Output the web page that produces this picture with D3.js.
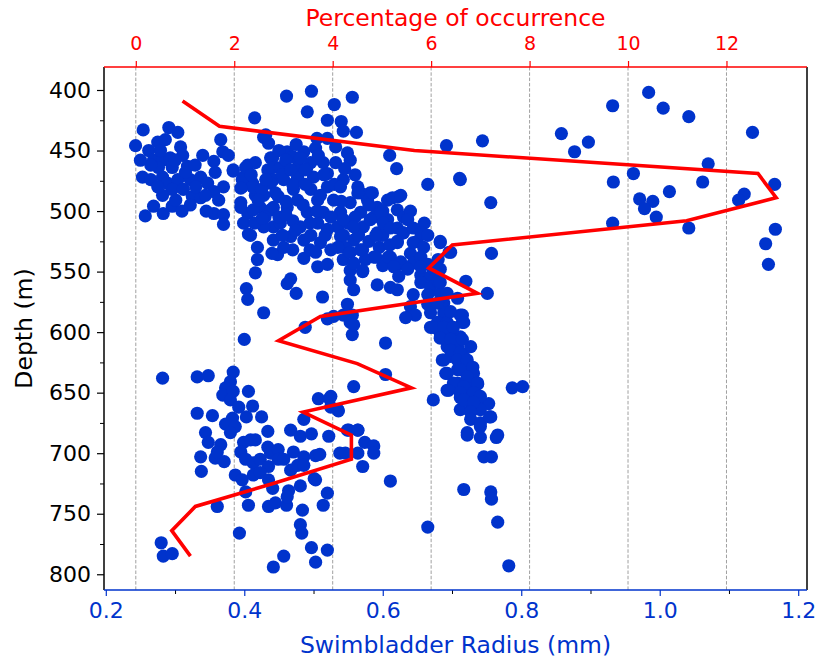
<!DOCTYPE html>
<html>
<head>
<meta charset="utf-8">
<style>
body { margin: 0; background: #fff; }
svg text { font-family: "DejaVu Sans", sans-serif; }
.axis .domain { display: none; }
</style>
</head>
<body>
<svg width="817" height="661"></svg>
<script src="https://cdn.jsdelivr.net/npm/d3@7"></script>
<script>
// swimbladder radius (mm) vs depth (m), one pair per fish
var fish = [
  [0.254,433],[0.243,446],[0.262,450],[0.291,431],[0.304,435],[0.275,443],[0.286,441],[0.308,447],[0.311,454],[0.269,458],
  [0.282,458],[0.293,456],[0.296,464],[0.276,464],[0.253,472],[0.265,474],[0.282,472],[0.289,477],[0.304,474],[0.296,482],
  [0.282,487],[0.269,496],[0.257,504],[0.283,502],[0.296,496],[0.312,482],[0.318,463],[0.322,474],[0.325,488],[0.337,472],
  [0.340,454],[0.356,459],[0.358,468],[0.347,477],[0.337,489],[0.356,484],[0.370,480],[0.363,491],[0.356,502],[0.370,503],
  [0.370,511],[0.366,441],[0.369,451],[0.377,454],[0.384,467],[0.415,423],[0.428,439],[0.435,444],[0.405,462],[0.416,460],
  [0.399,472],[0.397,480],[0.412,477],[0.416,487],[0.395,493],[0.405,502],[0.423,497],[0.399,510],[0.406,519],[0.438,456],
  [0.434,466],[0.442,474],[0.442,497],[0.442,513],
  [0.265,462],[0.279,450],[0.315,468],[0.329,462],[0.344,487],[0.322,495],[0.301,491],[0.250,458],[0.310,500],[0.345,500],
  [0.330,480],[0.275,480],[0.300,458],
  [0.461,405],[0.497,401],[0.491,418],[0.530,412],[0.556,406],[0.520,425],[0.540,426],[0.543,434],[0.562,435],[0.610,454],
  [0.620,465],[0.549,452],[0.553,458],[0.532,447],[0.532,460],[0.503,448],[0.486,451],[0.462,451],[0.441,456],[0.441,464],
  [0.402,464],[0.384,466],[0.397,474],[0.412,480],[0.395,481],[0.452,464],[0.477,464],[0.496,460],[0.514,460],[0.457,474],
  [0.477,472],[0.500,472],[0.520,469],[0.438,477],[0.471,482],[0.496,482],[0.520,480],[0.543,474],[0.564,480],[0.582,485],
  [0.568,485],[0.428,487],[0.449,488],[0.477,491],[0.506,491],[0.529,491],[0.553,493],[0.578,491],[0.607,491],[0.623,488],
  [0.621,499],[0.592,497],[0.395,497],[0.413,499],[0.438,499],[0.462,497],[0.491,501],[0.514,501],[0.539,501],[0.568,501],
  [0.587,505],[0.607,507],[0.630,505],[0.428,513],[0.452,510],[0.481,513],[0.506,510],[0.535,513],[0.549,510],[0.572,513],
  [0.592,518],[0.621,514],[0.409,520],[0.419,530],[0.442,524],[0.467,521],[0.486,524],[0.510,526],[0.539,521],[0.558,524],
  [0.571,532],[0.587,538],[0.611,538],[0.621,526],[0.630,518],[0.419,540],[0.448,536],[0.486,539],[0.506,546],[0.520,544],
  [0.543,540],[0.553,549],[0.571,550],[0.623,544],[0.416,551],[0.467,556],
  [0.450,450],[0.470,455],[0.455,470],[0.470,478],[0.445,485],[0.460,492],[0.485,495],[0.505,500],[0.525,505],[0.450,505],
  [0.470,508],[0.495,510],[0.520,515],[0.540,492],[0.530,478],[0.515,470],[0.545,465],[0.560,470],[0.490,465],[0.505,440],
  [0.475,445],[0.520,440],[0.430,505],[0.415,510],[0.455,520],[0.440,535],[0.470,532],[0.495,532],[0.545,530],[0.565,520],
  [0.580,525],[0.600,520],[0.595,530],[0.610,528],[0.575,540],[0.600,545],[0.640,535],[0.650,525],[0.660,510],[0.640,500],
  [0.600,500],[0.580,495],[0.560,505],[0.410,470],[0.425,482],
  [0.665,478],[0.712,474],[0.756,493],[0.539,480],[0.564,485],[0.585,485],[0.614,489],[0.626,487],[0.597,502],[0.582,507],
  [0.543,507],[0.558,513],[0.601,510],[0.636,507],[0.629,518],[0.644,514],[0.655,518],[0.665,520],[0.543,520],[0.590,520],
  [0.611,514],[0.621,525],[0.644,526],[0.659,530],[0.683,525],[0.698,534],[0.535,530],[0.553,534],[0.568,532],[0.558,543],
  [0.590,538],[0.608,538],[0.626,542],[0.644,543],[0.655,538],[0.665,544],[0.680,540],[0.757,535],[0.571,549],[0.616,546],
  [0.636,548],[0.655,553],[0.669,554],[0.683,548],[0.553,557],[0.623,554],[0.592,561],[0.611,563],[0.621,565],[0.558,565],
  [0.655,559],[0.669,563],[0.680,558],[0.720,558],[0.751,568],[0.644,569],[0.665,569],[0.683,568],[0.708,572],[0.640,579],
  [0.665,577],[0.688,576],[0.549,577],[0.543,586],[0.556,586],[0.647,586],[0.633,588],[0.669,584],[0.688,584],[0.712,586],
  [0.529,587],[0.553,592],[0.669,596],[0.679,592],[0.693,592],[0.715,592],[0.556,602],[0.683,601],[0.698,601],[0.712,604],
  [0.604,609],[0.693,612],[0.708,612],[0.727,612],[0.698,620],[0.717,620],[0.686,623],[0.691,634],[0.708,631],[0.727,629],
  [0.731,634],[0.604,635],[0.558,645],[0.708,642],[0.722,642],[0.737,643],[0.693,648],[0.787,646],[0.802,645],[0.673,656],
  [0.712,654],[0.727,653],[0.741,656],[0.753,659],[0.712,664],[0.727,664],[0.741,664],[0.756,670],[0.722,683],[0.741,678],
  [0.766,685],[0.535,664],[0.549,681],[0.564,681],[0.525,653],
  [0.673,548],[0.655,546],[0.683,559],[0.693,568],[0.679,576],[0.698,583],[0.715,586],[0.717,592],[0.673,596],[0.688,596],
  [0.702,596],[0.683,605],[0.698,606],[0.715,606],[0.698,615],[0.712,617],[0.688,623],[0.708,623],[0.722,623],[0.730,629],
  [0.693,634],[0.712,631],[0.722,637],[0.737,642],[0.702,642],[0.717,645],[0.695,648],[0.712,650],[0.731,650],[0.741,653],
  [0.717,656],[0.731,658],[0.727,666],[0.727,672],[0.741,675],[0.754,670],[0.722,685],[0.741,687],[0.764,687],[0.746,703],
  [0.757,703],[0.717,730],[0.756,732],[0.757,738],[0.766,757],[0.782,793],[0.665,761],
  [0.282,638],[0.332,637],[0.348,636],[0.400,606],[0.488,596],[0.558,594],[0.384,633],[0.380,641],[0.373,646],[0.369,652],
  [0.384,649],[0.406,649],[0.380,656],[0.392,662],[0.412,661],[0.332,667],[0.354,669],[0.383,671],[0.403,670],[0.425,670],
  [0.373,676],[0.387,678],[0.380,683],[0.344,683],[0.348,691],[0.366,693],[0.337,703],[0.358,704],[0.371,707],[0.338,715],
  [0.361,699],[0.399,691],[0.409,689],[0.416,689],[0.434,682],[0.434,695],[0.395,699],[0.402,705],[0.413,708],[0.423,705],
  [0.438,700],[0.449,697],[0.435,711],[0.449,705],[0.387,718],[0.397,722],[0.413,718],[0.423,716],[0.435,722],[0.467,681],
  [0.486,672],[0.481,686],[0.497,684],[0.471,699],[0.486,703],[0.503,702],[0.509,701],[0.467,714],[0.457,705],[0.477,710],
  [0.486,710],[0.507,655],[0.523,655],[0.525,662],[0.536,665],[0.522,686],[0.551,681],[0.564,681],[0.574,691],[0.587,694],
  [0.587,700],[0.564,700],[0.538,700],[0.546,700],[0.571,711],[0.611,723],[0.501,721],[0.481,727],[0.464,731],[0.441,729],
  [0.402,732],[0.361,744],[0.406,743],[0.435,744],[0.445,741],[0.461,743],[0.462,736],[0.484,747],[0.514,743],[0.520,733],
  [0.481,759],[0.483,766],[0.393,766],[0.497,778],[0.520,780],[0.503,790],[0.457,785],[0.442,794],[0.280,774],[0.283,785],
  [0.296,783],[0.503,722],
  [0.403,564],[0.405,573],[0.428,584],[0.462,560],[0.475,568],[0.513,571],[0.520,589],
  [0.932,413],[0.984,402],[1.005,415],[1.042,422],[1.134,435],[0.858,436],[0.897,443],[0.877,451],[0.744,442],[0.692,446],
  [0.711,473],[1.070,461],[1.062,476],[0.933,476],[0.962,469],[0.971,490],[0.990,492],[0.978,498],[0.995,505],[1.014,484],
  [1.166,478],[1.122,486],[1.114,491],[0.932,510],[1.042,514],[1.167,515],[1.153,527],[1.157,544],[0.696,534],[0.683,526],
  [0.431,437],[0.460,458],[0.481,456],[0.507,454],[0.460,503],[0.474,516],[0.496,520],[0.517,520],[0.525,532],[0.503,534],
  [0.457,530],[0.488,478],[0.510,487],[0.467,466],[0.488,466],[0.431,474],[0.420,491],[0.426,506]
];

// percentage of occurrence per depth bin (red profile)
var binDepth = [409, 430, 450, 469, 489, 508, 528, 547, 568, 587, 607, 626, 646, 666, 685, 705, 725, 744, 764, 785];
var binPct   = [0.95, 1.70, 5.66, 12.64, 13.01, 11.19, 6.43, 5.95, 6.94, 3.75, 2.90, 4.50, 5.60, 3.40, 4.38, 4.38, 2.79, 1.21, 0.73, 1.11];

var radiusTicks = [0.2, 0.4, 0.6, 0.8, 1.0, 1.2];
var radiusMinor = [0.3, 0.5, 0.7, 0.9, 1.1];
var depthTicks = [400, 450, 500, 550, 600, 650, 700, 750, 800];
var depthMinor = [425, 475, 525, 575, 625, 675, 725, 775];
var pctTicks = [0, 2, 4, 6, 8, 10, 12];

var blue = "#0033cc", red = "#ff0000";

var svg = d3.select("svg"),
    margin = {top: 67, right: 10, bottom: 71, left: 104},
    width = +svg.attr("width") - margin.left - margin.right,
    height = +svg.attr("height") - margin.top - margin.bottom,
    g = svg.append("g").attr("transform", "translate(" + margin.left + "," + margin.top + ")");

var x = d3.scaleLinear().domain([0.1974, 1.2127]).range([0, width]);
var xp = d3.scaleLinear().domain([-0.646, 13.636]).range([0, width]);
var y = d3.scaleLinear().domain([381, 813]).range([0, height]);

// dashed grid from the top (percentage) axis
g.append("g")
  .selectAll("line")
  .data(pctTicks)
  .enter().append("line")
    .attr("x1", function(d) { return xp(d); })
    .attr("x2", function(d) { return xp(d); })
    .attr("y1", 0)
    .attr("y2", height)
    .attr("stroke", "#a0a0a0")
    .attr("stroke-width", 1)
    .attr("stroke-dasharray", "3.5,1.8");

g.append("g")
  .selectAll("circle")
  .data(fish)
  .enter().append("circle")
    .attr("cx", function(d) { return x(d[0]); })
    .attr("cy", function(d) { return y(d[1]); })
    .attr("r", 6.6)
    .attr("fill", blue);

var line = d3.line()
    .x(function(d, i) { return xp(binPct[i]); })
    .y(function(d) { return y(d); });

g.append("path")
    .datum(binDepth)
    .attr("d", line)
    .attr("fill", "none")
    .attr("stroke", red)
    .attr("stroke-width", 3.6)
    .attr("stroke-linejoin", "miter");

// left axis
var leftAxis = g.append("g").attr("class", "axis")
    .call(d3.axisLeft(y).tickValues(depthTicks).tickSize(7).tickPadding(6));
leftAxis.selectAll("text").attr("font-size", 22).attr("fill", "#000").style("font-family", "DejaVu Sans");
leftAxis.selectAll("line").attr("stroke", "#000").attr("stroke-width", 1.2);
var leftMinor = g.append("g").attr("class", "axis")
    .call(d3.axisLeft(y).tickValues(depthMinor).tickSize(4).tickFormat(""));
leftMinor.selectAll("line").attr("stroke", "#000").attr("stroke-width", 1);

// bottom axis
var bottomAxis = g.append("g").attr("class", "axis")
    .attr("transform", "translate(0," + height + ")")
    .call(d3.axisBottom(x).tickValues(radiusTicks).tickSize(6).tickPadding(6).tickFormat(d3.format(".1f")));
bottomAxis.selectAll("text").attr("font-size", 22).attr("fill", blue).style("font-family", "DejaVu Sans");
bottomAxis.selectAll("line").attr("stroke", blue).attr("stroke-width", 1.2);
var bottomMinor = g.append("g").attr("class", "axis")
    .attr("transform", "translate(0," + height + ")")
    .call(d3.axisBottom(x).tickValues(radiusMinor).tickSize(4).tickFormat(""));
bottomMinor.selectAll("line").attr("stroke", "#000").attr("stroke-width", 1);

// top axis
var topAxis = g.append("g").attr("class", "axis")
    .call(d3.axisTop(xp).tickValues(pctTicks).tickSize(6).tickPadding(11));
topAxis.selectAll("text").attr("font-size", 19).attr("fill", red).style("font-family", "DejaVu Sans");
topAxis.selectAll("line").attr("stroke", red).attr("stroke-width", 1.2);

// spines
g.append("line").attr("x1", 0).attr("x2", 0).attr("y1", 0).attr("y2", height).attr("stroke", "#000").attr("stroke-width", 1.5);
g.append("line").attr("x1", width).attr("x2", width).attr("y1", 0).attr("y2", height).attr("stroke", "#000").attr("stroke-width", 1.5);
g.append("line").attr("x1", 0).attr("x2", width).attr("y1", 0).attr("y2", 0).attr("stroke", red).attr("stroke-width", 1.5);
g.append("line").attr("x1", 0).attr("x2", width).attr("y1", height).attr("y2", height).attr("stroke", blue).attr("stroke-width", 1.5);

// axis titles
svg.append("text")
    .attr("x", margin.left + width / 2)
    .attr("y", 26)
    .attr("text-anchor", "middle")
    .attr("font-size", 23.5)
    .attr("fill", red)
    .text("Percentage of occurrence");
svg.append("text")
    .attr("x", margin.left + width / 2)
    .attr("y", 653)
    .attr("text-anchor", "middle")
    .attr("font-size", 23.5)
    .attr("fill", blue)
    .text("Swimbladder Radius (mm)");
svg.append("text")
    .attr("transform", "translate(32," + (margin.top + height / 2) + ") rotate(-90)")
    .attr("text-anchor", "middle")
    .attr("font-size", 23.5)
    .attr("fill", "#000")
    .text("Depth (m)");
</script>
</body>
</html>
